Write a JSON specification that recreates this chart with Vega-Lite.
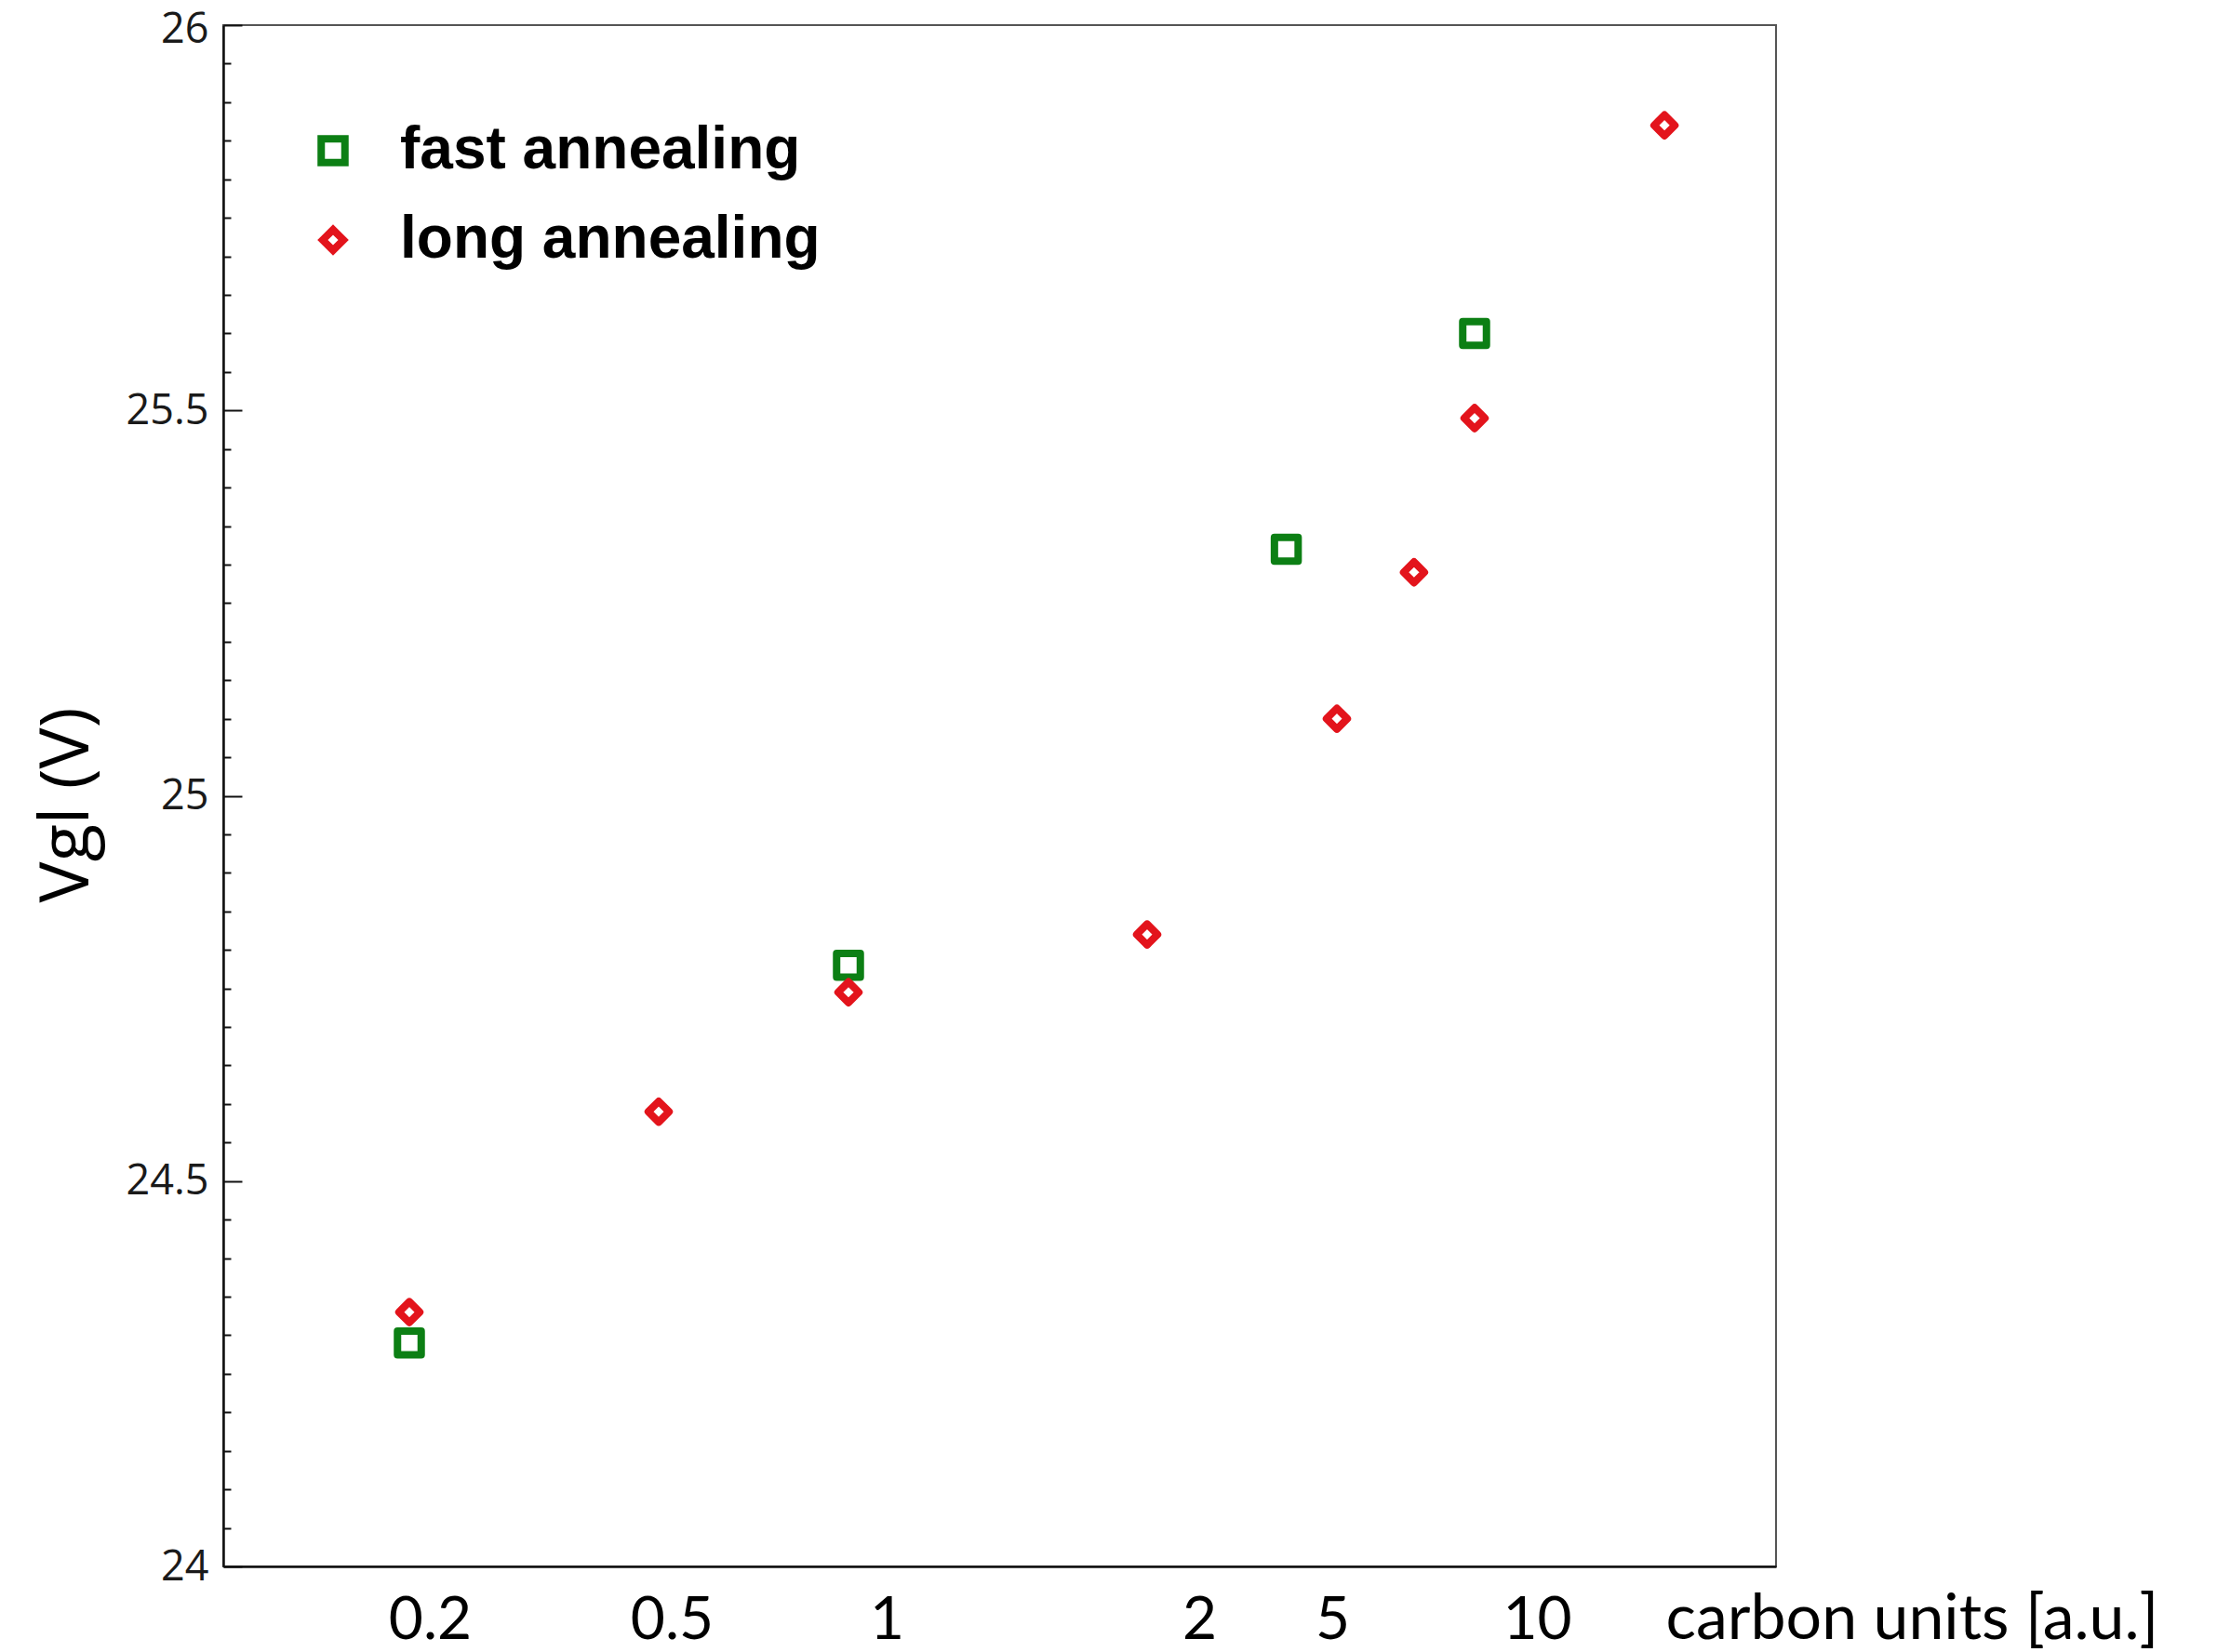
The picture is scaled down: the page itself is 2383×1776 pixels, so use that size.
{
  "$schema": "https://vega.github.io/schema/vega-lite/v6.json",
  "width": 1669,
  "height": 1657,
  "autosize": {"type": "none"},
  "padding": {"left": 240, "top": 27, "right": 474, "bottom": 92},
  "background": "white",
  "config": {
    "view": {"stroke": "#555555", "strokeWidth": 2},
    "axis": {"grid": false}
  },
  "data": {
    "values": [
      {"carbon": 0.2, "vgl": 24.29, "annealing": "fast annealing"},
      {"carbon": 1, "vgl": 24.78, "annealing": "fast annealing"},
      {"carbon": 4.2, "vgl": 25.32, "annealing": "fast annealing"},
      {"carbon": 10, "vgl": 25.6, "annealing": "fast annealing"},
      {"carbon": 0.2, "vgl": 24.33, "annealing": "long annealing"},
      {"carbon": 0.5, "vgl": 24.59, "annealing": "long annealing"},
      {"carbon": 1, "vgl": 24.745, "annealing": "long annealing"},
      {"carbon": 2, "vgl": 24.82, "annealing": "long annealing"},
      {"carbon": 5, "vgl": 25.1, "annealing": "long annealing"},
      {"carbon": 7.8, "vgl": 25.29, "annealing": "long annealing"},
      {"carbon": 10, "vgl": 25.49, "annealing": "long annealing"},
      {"carbon": 16.3, "vgl": 25.87, "annealing": "long annealing"}
    ]
  },
  "mark": {"type": "point", "filled": false, "strokeWidth": 8, "strokeJoin": "round", "opacity": 1},
  "encoding": {
    "x": {
      "field": "carbon",
      "type": "quantitative",
      "scale": {
        "domain": [0, 0.2, 0.5, 1, 2, 5, 10, 20],
        "range": [0, 200, 468, 672, 993, 1197, 1345, 1669],
        "zero": false,
        "nice": false
      },
      "axis": {
        "values": [0.2, 0.5, 1, 2, 5, 10],
        "format": "~g",
        "ticks": false,
        "domainColor": "#111111",
        "domainWidth": 2.5,
        "labelFont": "Lato",
        "labelFontSize": 64,
        "labelColor": "#000000",
        "labelBaseline": "alphabetic",
        "labelPadding": 77,
        "labelFlush": false,
        "labelOverlap": false,
        "labelBound": false,
        "labelOffset": {
          "condition": [
            {"test": "datum.value == 0.2", "value": 22},
            {"test": "datum.value == 0.5", "value": 14},
            {"test": "datum.value == 1", "value": 41},
            {"test": "datum.value == 2", "value": 56},
            {"test": "datum.value == 5", "value": -5},
            {"test": "datum.value == 10", "value": 67}
          ],
          "value": 0
        },
        "title": "carbon units [a.u.]",
        "titleFont": "Lato",
        "titleFontSize": 68,
        "titleFontWeight": "normal",
        "titleColor": "#000000",
        "titleAlign": "left",
        "titleBaseline": "alphabetic",
        "titleX": 1550,
        "titleY": 77
      }
    },
    "y": {
      "field": "vgl",
      "type": "quantitative",
      "scale": {"domain": [24, 26], "zero": false, "nice": false},
      "axis": {
        "values": [24, 24.05, 24.1, 24.15, 24.2, 24.25, 24.3, 24.35, 24.4, 24.45, 24.5, 24.55, 24.6, 24.65, 24.7, 24.75, 24.8, 24.85, 24.9, 24.95, 25, 25.05, 25.1, 25.15, 25.2, 25.25, 25.3, 25.35, 25.4, 25.45, 25.5, 25.55, 25.6, 25.65, 25.7, 25.75, 25.8, 25.85, 25.9, 25.95, 26],
        "labelExpr": "abs(datum.value * 2 - round(datum.value * 2)) < 0.001 ? format(datum.value, '~g') : ''",
        "tickSize": {
          "condition": {"test": "abs(datum.value * 2 - round(datum.value * 2)) < 0.001", "value": -20},
          "value": -8
        },
        "tickColor": "#111111",
        "tickWidth": 2,
        "domainColor": "#111111",
        "domainWidth": 2.5,
        "labelFont": "Open Sans",
        "labelFontSize": 45,
        "labelColor": "#1a1a1a",
        "labelPadding": 36,
        "labelOffset": {
          "condition": {"test": "datum.value == 26", "value": 4},
          "value": 0
        },
        "labelFlush": false,
        "labelOverlap": false,
        "labelBound": false,
        "title": "Vgl (V)",
        "titleFont": "Open Sans",
        "titleFontSize": 74,
        "titleFontWeight": "normal",
        "titleColor": "#000000",
        "titleAngle": -90,
        "titleAlign": "center",
        "titleBaseline": "alphabetic",
        "titleX": -146,
        "titleY": 838
      }
    },
    "color": {
      "field": "annealing",
      "type": "nominal",
      "scale": {"domain": ["fast annealing", "long annealing"], "range": ["#0c7f14", "#e3141c"]},
      "legend": {
        "title": null,
        "orient": "none",
        "legendX": 86,
        "legendY": 103,
        "padding": 0,
        "symbolSize": 650,
        "symbolStrokeWidth": 8,
        "labelFont": "Liberation Sans",
        "labelFontWeight": "bold",
        "labelFontSize": 64,
        "labelColor": "#000000",
        "labelOffset": 40,
        "rowPadding": 32,
        "labelLimit": 1000
      }
    },
    "shape": {
      "field": "annealing",
      "type": "nominal",
      "scale": {"domain": ["fast annealing", "long annealing"], "range": ["square", "diamond"]}
    },
    "size": {
      "field": "annealing",
      "type": "nominal",
      "scale": {"domain": ["fast annealing", "long annealing"], "range": [650, 500]},
      "legend": null
    }
  }
}
